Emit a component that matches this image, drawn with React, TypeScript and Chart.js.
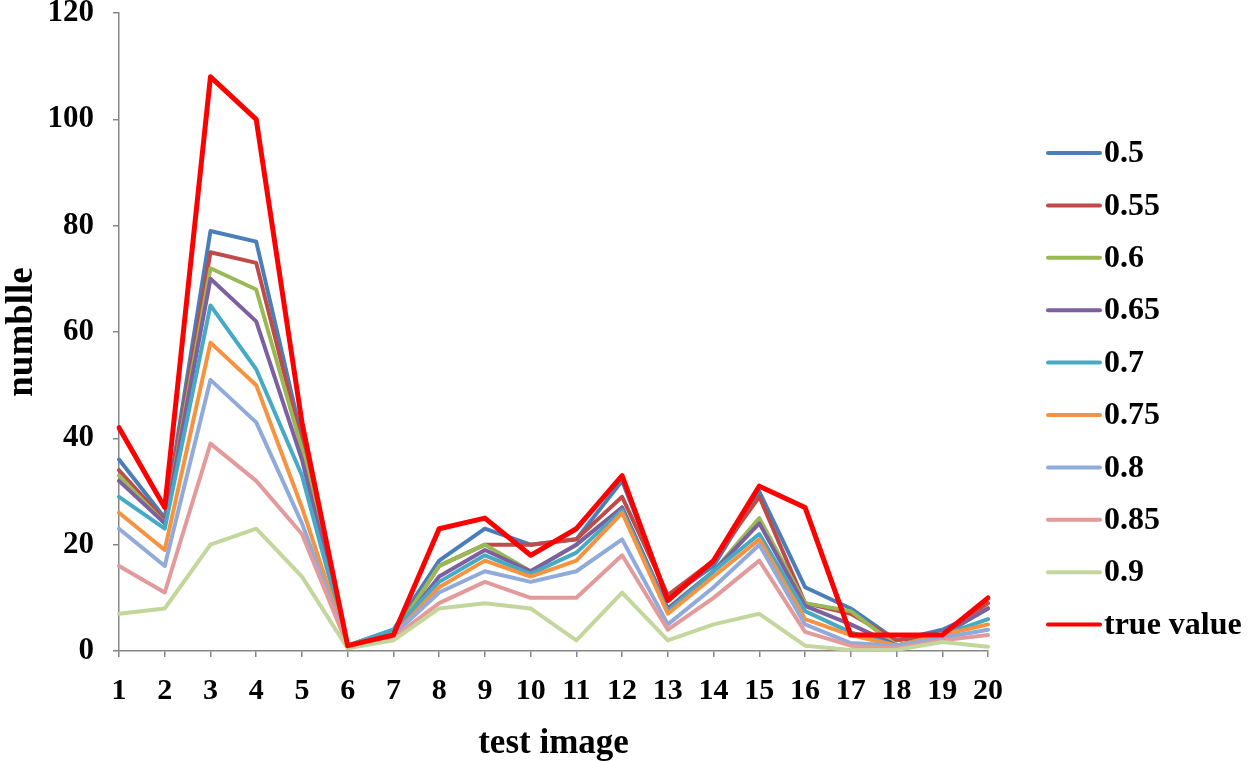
import React, { useEffect, useRef } from 'react';
import { Chart, registerables } from 'chart.js';

Chart.register(...registerables);

const categories = ['1','2','3','4','5','6','7','8','9','10','11','12','13','14','15','16','17','18','19','20'];

const seriesLabels = ['0.5','0.55','0.6','0.65','0.7','0.75','0.8','0.85','0.9','true value'];

const s050 = [36, 25, 79, 77, 40, 1, 4, 17, 23, 20, 21, 32, 10, 16, 30, 12, 8, 2, 4, 8];
const s055 = [34, 24.5, 75, 73, 39, 1, 3, 16, 20, 20, 21, 29, 10.5, 17, 29, 9, 7, 2, 3, 9];
const s060 = [33, 24, 72, 68, 38, 1, 3, 16, 20, 15, 20, 27, 8, 15, 25, 9, 7.5, 1, 3, 8];
const s065 = [32, 24, 70, 62, 36, 1, 3, 14, 19, 15, 20, 27, 8, 15, 24, 8.5, 5, 1, 3, 8];
const s070 = [29, 23, 65, 53, 33, 1, 4, 13, 18, 14.5, 18.5, 26.5, 7.5, 15, 22, 7.5, 3.5, 1, 3, 6];
const s075 = [26, 19, 58, 50, 27, 1, 3, 12, 17, 14, 17, 26, 7, 14, 21, 6, 3, 1, 3, 5];
const s080 = [23, 16, 51, 43, 24, 1, 3, 11, 15, 13, 15, 21, 5, 12, 20, 5, 1.5, 1, 2.5, 4];
const s085 = [16, 11, 39, 32, 22, 1, 2.5, 9, 13, 10, 10, 18, 4, 10, 17, 3.6, 1, 0.5, 2, 3];
const s090 = [7, 8, 20, 23, 14, 0.5, 2, 8, 9, 8, 2, 11, 2, 5, 7, 1, 0.2, 0.2, 1.7, 0.8];
const trueValue = [42, 27, 108, 100, 43, 1, 3, 23, 25, 18, 23, 33, 9.5, 17, 31, 27, 3, 3, 3, 10];

const seriesValues = [s050, s055, s060, s065, s070, s075, s080, s085, s090, trueValue];

const colors = ['#4A7EBB', '#BE4B48', '#98B954', '#7D60A0', '#46AAC5', '#F69240', '#90AADB', '#E39A9B', '#C3D69B', '#FF0000'];

const yTicks = [0, 20, 40, 60, 80, 100, 120];

const FONT = '"Liberation Serif", "Times New Roman", Times, serif';

const sideLegend = {
  id: 'sideLegend',
  afterDraw(chart: any) {
    const ctx = chart.ctx;
    ctx.save();
    chart.data.datasets.forEach((ds: any, i: number) => {
      const y = 153 + i * 52.4;
      ctx.strokeStyle = ds.borderColor;
      ctx.lineWidth = 4;
      ctx.lineCap = 'round';
      ctx.beginPath();
      ctx.moveTo(1048, y);
      ctx.lineTo(1100, y);
      ctx.stroke();
      ctx.fillStyle = '#000';
      ctx.font = `bold 32px ${FONT}`;
      ctx.textBaseline = 'middle';
      ctx.textAlign = 'left';
      ctx.fillText(ds.label, 1104, y + 1);
    });
    ctx.restore();
  },
};

export default function App() {
  const ref = useRef<HTMLCanvasElement | null>(null);

  useEffect(() => {
    if (!ref.current) return;
    const n = seriesLabels.length;
    const chart = new Chart(ref.current, {
      type: 'line',
      data: {
        labels: categories,
        datasets: seriesLabels.map((label, i) => ({
          label,
          data: seriesValues[i],
          borderColor: colors[i],
          backgroundColor: colors[i],
          borderWidth: i === n - 1 ? 5 : 4,
          pointRadius: 0,
          tension: 0,
          fill: false,
          order: n - i,
          borderJoinStyle: 'round' as const,
          borderCapStyle: 'round' as const,
        })),
      },
      options: {
        animation: false,
        responsive: false,
        maintainAspectRatio: false,
        layout: { padding: { top: 13, right: 260, bottom: 0, left: 0 } },
        plugins: {
          legend: { display: false },
          tooltip: { enabled: false },
        },
        scales: {
          x: {
            type: 'category',
            offset: false,
            grid: { display: true, drawOnChartArea: false, drawTicks: true, tickLength: 6, color: '#868686', lineWidth: 1.5 },
            border: { display: true, color: '#868686', width: 1.5 },
            ticks: {
              color: '#000',
              font: { family: FONT, size: 30, weight: 'bold' },
              padding: 16,
              maxRotation: 0,
              autoSkip: false,
            },
            title: {
              display: true,
              text: 'test image',
              color: '#000',
              font: { family: FONT, size: 35, weight: 'bold', lineHeight: 1.0 },
              padding: { top: 0, bottom: 0 },
            },
            afterFit: (s: any) => { s.height = 110; s.paddingLeft = 0; s.paddingRight = 0; },
          },
          y: {
            min: 0,
            max: 120,
            afterBuildTicks: (s: any) => { s.ticks = yTicks.map((v) => ({ value: v })); },
            grid: { display: true, drawOnChartArea: false, drawTicks: true, tickLength: 6, color: '#868686', lineWidth: 1.5 },
            border: { display: true, color: '#868686', width: 1.5 },
            ticks: {
              color: '#000',
              font: { family: FONT, size: 31, weight: 'bold' },
              padding: 19,
            },
            title: {
              display: true,
              text: 'numblle',
              color: '#000',
              font: { family: FONT, size: 37, weight: 'bold' },
              padding: { top: 0, bottom: 0 },
            },
            afterFit: (s: any) => { s.width = 119; s.paddingTop = 0; s.paddingBottom = 0; },
          },
        },
      },
      plugins: [sideLegend],
    });
    return () => chart.destroy();
  }, []);

  return (
    <div style={{ position: 'absolute', left: 0, top: 0, width: 1248, height: 761, background: '#fff' }}>
      <canvas ref={ref} width={1248} height={761} style={{ width: 1248, height: 761, display: 'block' }} />
    </div>
  );
}
